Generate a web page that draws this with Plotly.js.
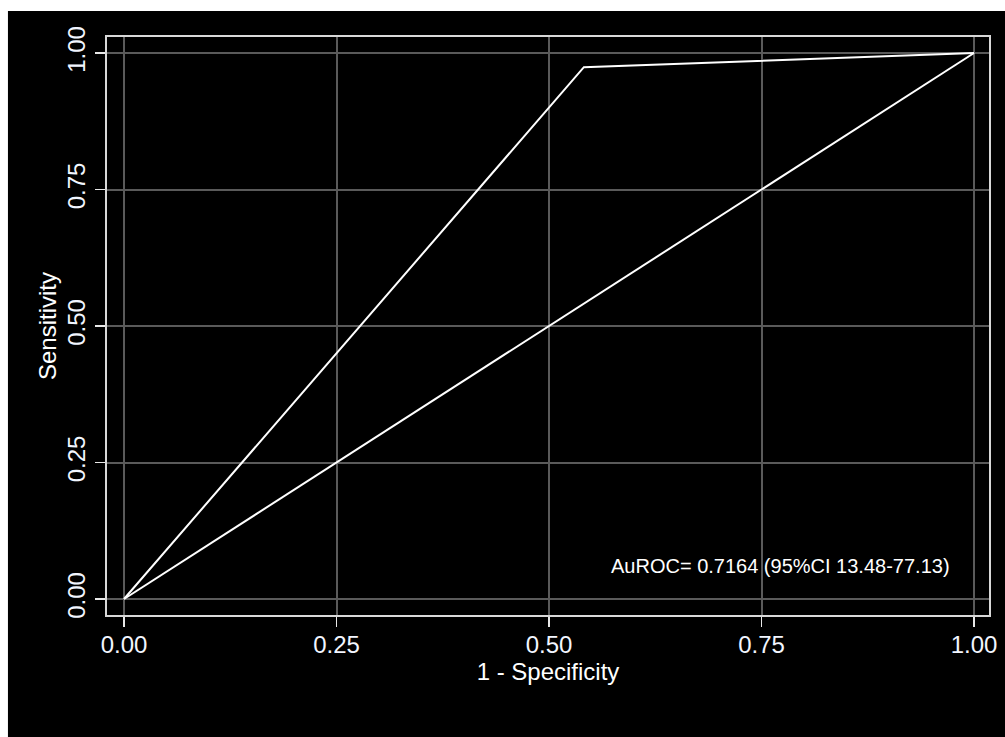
<!DOCTYPE html>
<html>
<head>
<meta charset="utf-8">
<script src="https://cdn.plot.ly/plotly-3.0.1.min.js"></script>
<style>html,body{margin:0;padding:0;background:#fff;}#chart{width:1005px;height:737px;}</style>
</head>
<body>
<div id="chart"></div>
<script>
const oneMinusSpec = [0, 0.541, 1];
const sensitivity = [0, 0.974, 1];
const refX = [0, 1];
const refY = [0, 1];
const tickVals = [0, 0.25, 0.5, 0.75, 1];
const tickLabels = ['0.00', '0.25', '0.50', '0.75', '1.00'];
const annoText = 'AuROC= 0.7164 (95%CI 13.48-77.13)';
const xTitle = '1 - Specificity';
const yTitle = 'Sensitivity';

const FONT = 'Liberation Sans, Arial, sans-serif';

const traces = [
  {x: oneMinusSpec, y: sensitivity, mode: 'lines', line: {color: '#ffffff', width: 2}, hoverinfo: 'skip'},
  {x: refX, y: refY, mode: 'lines', line: {color: '#ffffff', width: 2}, hoverinfo: 'skip'}
];

const axisCommon = {
  tickvals: tickVals,
  ticktext: tickLabels,
  showgrid: true,
  gridcolor: '#5a5a5a',
  gridwidth: 2,
  zeroline: false,
  showline: true,
  mirror: true,
  linecolor: '#d8d8d8',
  linewidth: 2,
  ticks: 'outside',
  ticklen: 10,
  tickwidth: 1.5,
  tickcolor: '#e8e8e8',
  tickfont: {family: FONT, size: 24, color: '#f2f6ff'}
};

const layout = {
  width: 1005,
  height: 737,
  margin: {l: 107, r: 16, t: 37, b: 122, pad: 0},
  paper_bgcolor: '#ffffff',
  plot_bgcolor: '#000000',
  showlegend: false,
  xaxis: Object.assign({}, axisCommon, {
    range: [-0.02, 1.0176],
    ticklabelstandoff: -3,
    title: {text: xTitle, font: {family: FONT, size: 24, color: '#ffffff'}, standoff: 0}
  }),
  yaxis: Object.assign({}, axisCommon, {
    range: [-0.0293, 1.0293],
    tickangle: -90,
    title: {text: yTitle, font: {family: FONT, size: 24, color: '#ffffff'}, standoff: 0}
  }),
  shapes: [{
    type: 'rect', xref: 'paper', yref: 'paper',
    x0: -0.1123, x1: 1.02, y0: -0.22, y1: 1.045,
    fillcolor: '#000000', line: {width: 0}, layer: 'below'
  }],
  annotations: [{
    x: 0.5706, y: 0.0604, xref: 'x', yref: 'y',
    xanchor: 'left', yanchor: 'middle',
    text: annoText, showarrow: false,
    font: {family: FONT, size: 20, color: '#ffffff'}
  }]
};

Plotly.newPlot('chart', traces, layout, {displayModeBar: false, staticPlot: true});
</script>
</body>
</html>
